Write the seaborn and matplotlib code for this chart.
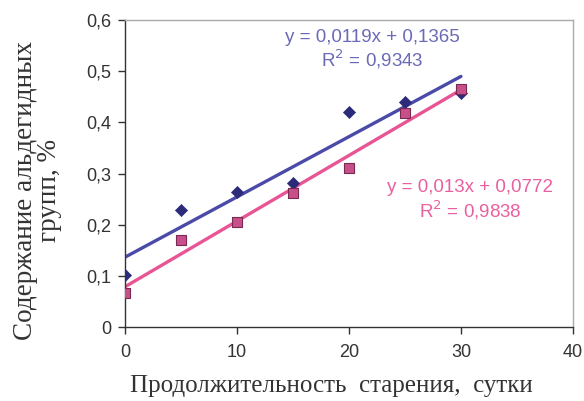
import numpy as np
import pandas as pd
import matplotlib
matplotlib.use("Agg")
import matplotlib.pyplot as plt
import seaborn as sns

days = [0, 5, 10, 15, 20, 25, 30]
series1 = [0.101, 0.229, 0.263, 0.281, 0.421, 0.439, 0.458]
series2 = [0.067, 0.170, 0.206, 0.261, 0.310, 0.418, 0.466]
eq1 = "y = 0,0119x + 0,1365\nR$^2$ = 0,9343"
eq2 = "y = 0,013x + 0,0772\nR$^2$ = 0,9838"
xticks = [0, 10, 20, 30, 40]
yticks = [0, 0.1, 0.2, 0.3, 0.4, 0.5, 0.6]

sns.set_style("white")
plt.rcParams['font.family'] = ['Liberation Sans', 'DejaVu Sans']

df1 = pd.DataFrame({"x": days, "y": series1})
df2 = pd.DataFrame({"x": days, "y": series2})

fig = plt.figure(figsize=(5.84, 4.01), dpi=100)
ax = fig.add_axes([0.214, 0.1845, 0.767, 0.7655])

blue_line = "#4a4aa8"
blue_mark = "#2b2b7a"
pink_line = "#e85595"
pink_mark = "#c8508a"

sns.regplot(data=df1, x="x", y="y", ax=ax, ci=None, scatter=False,
            line_kws=dict(color=blue_line, lw=2.4))
sns.regplot(data=df2, x="x", y="y", ax=ax, ci=None, scatter=False,
            line_kws=dict(color=pink_line, lw=2.4))
sns.scatterplot(data=df1, x="x", y="y", ax=ax, marker="D", s=38,
                color=blue_mark, edgecolor=blue_mark, zorder=5)
sns.scatterplot(data=df2, x="x", y="y", ax=ax, marker="s", s=60,
                color=pink_mark, edgecolor="#7a2a50", linewidth=0.8, zorder=6)

ax.set_xlim(0, 40)
ax.set_ylim(0, 0.6)
ax.set_xticks(xticks)
ax.set_xticklabels([str(t) for t in xticks], fontsize=13, color="#333333")
ax.set_yticks(yticks)
ax.set_yticklabels([("%.1f" % t).replace(".", ",") if t else "0" for t in yticks],
                   fontsize=13, color="#333333")
ax.tick_params(axis="x", direction="out", length=5, width=1, color="#333333",
               bottom=True, pad=7)
ax.tick_params(axis="y", direction="out", length=5, width=1, color="#333333",
               left=True, pad=5)

for s in ["left", "bottom"]:
    ax.spines[s].set_color("#333333")
    ax.spines[s].set_linewidth(1.0)
for s in ["top", "right"]:
    ax.spines[s].set_color("#aaaaaa")
    ax.spines[s].set_linewidth(1.0)

serif = ['Liberation Serif', 'DejaVu Serif']
ax.set_xlabel("Продолжительность  старения,  сутки", family=serif,
              fontsize=18, color="#333333")
ax.xaxis.set_label_coords(0.461, -0.155)
ax.set_ylabel("Содержание альдегидных\nгрупп, %", family=serif,
              fontsize=19.5, color="#333333", linespacing=0.95)
ax.yaxis.set_label_coords(-0.14, 0.446)

ax.text(22.05, 0.541, eq1, color="#6a6ab8", fontsize=13.5, ha="center", va="center",
        linespacing=1.1)
ax.text(30.8, 0.247, eq2, color="#e860a0", fontsize=13.5, ha="center", va="center",
        linespacing=1.1)

fig.savefig("out.png", dpi=100)
